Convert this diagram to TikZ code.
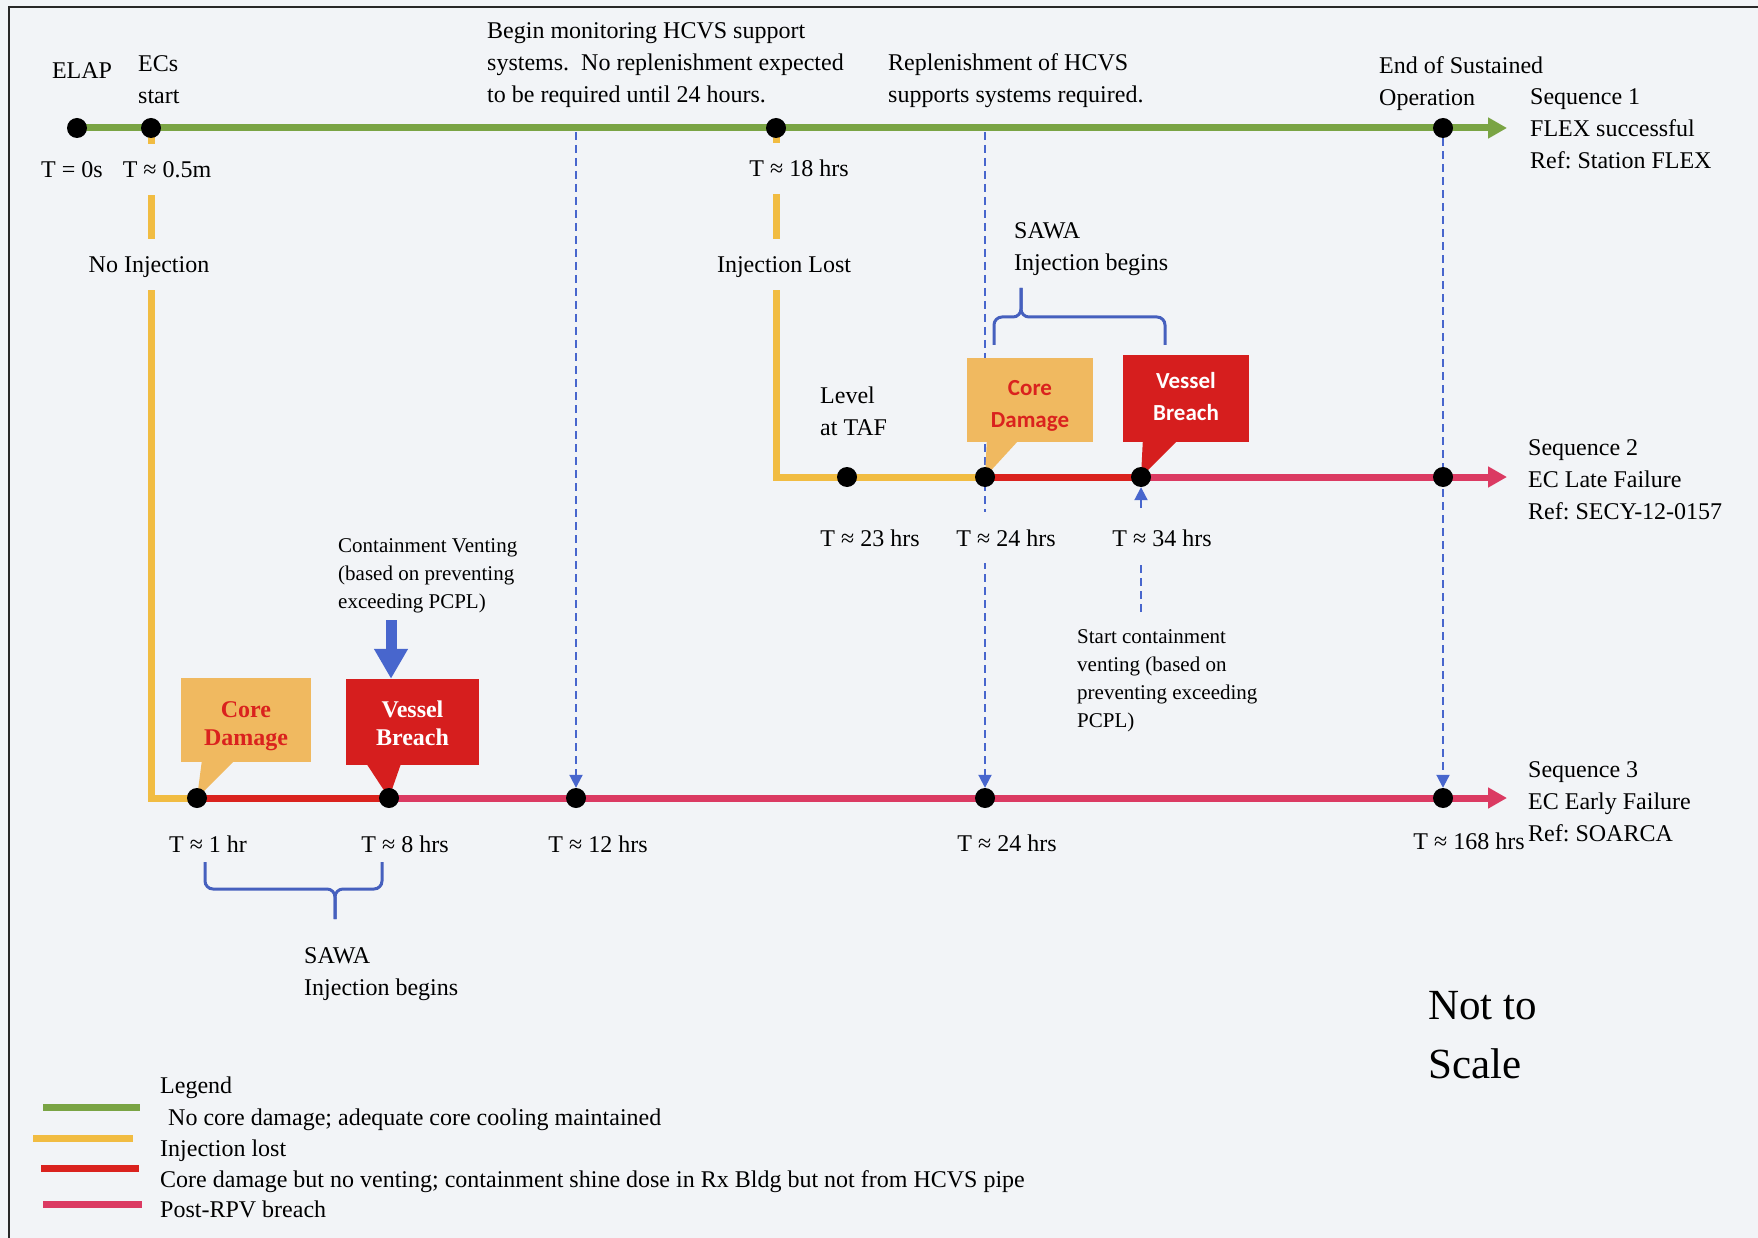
\documentclass[tikz,border=0pt]{standalone}
\usepackage{fontspec}
\setmainfont{Liberation Serif}
\newfontfamily\calfont{Carlito}
\usetikzlibrary{arrows.meta,calc}
\frenchspacing

\pgfdeclarelayer{bgfill}
\pgfdeclarelayer{lines}
\pgfsetlayers{bgfill,lines,main}

\definecolor{bg}{RGB}{242,244,247}
\definecolor{flexgreen}{RGB}{122,164,68}
\definecolor{injyellow}{RGB}{241,188,66}
\definecolor{cdred}{RGB}{218,34,30}
\definecolor{postpink}{RGB}{219,58,98}
\definecolor{cdtan}{RGB}{240,185,96}
\definecolor{vbred}{RGB}{214,30,30}
\definecolor{ventblue}{RGB}{72,102,205}
\definecolor{bracetone}{RGB}{70,96,190}
\definecolor{frameink}{RGB}{40,40,40}

\begin{document}
\begin{tikzpicture}[x=1pt,y=-1pt,
  tldot/.style={circle,fill=black,minimum size=20pt,inner sep=0pt},
  seqline/.style={line width=7pt},
  seqend/.style={seqline,-{Triangle[length=19pt,width=20pt]}},
  vdash/.style={ventblue,line width=2pt,dash pattern=on 8pt off 5pt,-{Triangle[length=13pt,width=13pt]}},
  txt/.style={font=\fontsize{24}{32}\selectfont,inner sep=0pt},
  smalltxt/.style={font=\fontsize{21}{28}\selectfont,inner sep=0pt},
  gap/.style={txt,fill=bg,text height=17pt,text depth=0pt,inner xsep=3pt,inner ysep=17pt},
  cdbox/.style={fill=cdtan,inner sep=0pt},
  vbbox/.style={fill=vbred,inner sep=0pt},
  toplabel/.style={anchor=north,align=center,inner sep=0pt,font=\calfont\bfseries\fontsize{23}{32.5}\selectfont},
  lowlabel/.style={anchor=north,align=center,inner sep=0pt,font=\bfseries\fontsize{24}{28}\selectfont},
  bracepath/.style={bracetone,line width=3pt,rounded corners=8pt},
  swatch/.style={line width=7pt}]

\useasboundingbox (0,0) rectangle (1758,1238);
\begin{pgfonlayer}{bgfill}
  \fill[bg] (0,0) rectangle (1758,1238);
\end{pgfonlayer}

% ---- event dots ----
\node[tldot] (s1a) at (77,128) {};
\node[tldot] (s1b) at (151,128) {};
\node[tldot] (s1c) at (776,128) {};
\node[tldot] (s1d) at (1443,128) {};
\node[tldot] (s2a) at (847,477) {};
\node[tldot] (s2b) at (985,477) {};
\node[tldot] (s2c) at (1141,477) {};
\node[tldot] (s2d) at (1443,477) {};
\node[tldot] (s3a) at (197,798) {};
\node[tldot] (s3b) at (389,798) {};
\node[tldot] (s3c) at (576,798) {};
\node[tldot] (s3d) at (985,798) {};
\node[tldot] (s3e) at (1443,798) {};

\coordinate (t1) at (1507,128);
\coordinate (t2) at (1507,477);
\coordinate (t3) at (1507,798);
\coordinate (c12) at (576,132);
\coordinate (c24) at (985,132);
\coordinate (c34) at (1141,612);

% ---- callout boxes ----
\node[cdbox,minimum width=126pt,minimum height=84pt] (cd2) at (1030,400) {};
\node[vbbox,minimum width=126pt,minimum height=87pt] (vb2) at (1186,398.5) {};
\node[cdbox,minimum width=130pt,minimum height=84pt] (cd3) at (246,720) {};
\node[vbbox,minimum width=133pt,minimum height=86pt] (vb3) at (412.5,722) {};

\begin{pgfonlayer}{lines}
  % sequence 1
  \draw[seqend,flexgreen] (s1a.center) -- (t1);
  % sequence 2
  \draw[seqline,injyellow] (s1c.center) |- (s2b.center);
  \draw[seqline,cdred] (s2b.center) -- (s2c.center);
  \draw[seqend,postpink] (s2c.center) -- (t2);
  % sequence 3
  \draw[seqline,injyellow] (s1b.center) |- (s3a.center);
  \draw[seqline,cdred] (s3a.center) -- (s3b.center);
  \draw[seqend,postpink] (s3b.center) -- (t3);
  % dashed time markers
  \draw[vdash] (c12) -- (s3c);
  \draw[vdash] (c24) -- (s3d);
  \draw[vdash] (s1d) -- (s3e);
  \draw[vdash] (c34) -- (s2c);
  % callout tails
  \fill[cdtan] ($(cd2.south west)+(20,-1)$) -- ($(cd2.south west)+(51,-1)$) -- (s2b.center) -- cycle;
  \fill[vbred] ($(vb2.south west)+(20,-1)$) -- ($(vb2.south west)+(54,-1)$) -- (s2c.center) -- cycle;
  \fill[cdtan] ($(cd3.south west)+(21,-1)$) -- ($(cd3.south west)+(53,-1)$) -- (s3a.center) -- cycle;
  \fill[vbred] ($(vb3.south west)+(21,-1)$) -- ($(vb3.south west)+(55,-1)$) -- (s3b.center) -- cycle;
\end{pgfonlayer}

% ---- callout texts ----
\node[toplabel,text=cdred] (cd2t) at (1030,380) {Core\\Damage};
\node[toplabel,text=white] (vb2t) at (1186,372) {Vessel\\Breach};
\node[lowlabel,text=cdred] (cd3t) at (246,701) {Core\\Damage};
\node[lowlabel,text=white] (vb3t) at (412.5,701) {Vessel\\Breach};

% ---- sequence 1 labels ----
\node[txt,anchor=base] (elap) at (82,79) {ELAP};
\node[txt,anchor=north west,align=left] (ecs) at (138,55) {ECs\\start};
\node[txt,anchor=base] (t0) at (72,178) {T = 0s};
\node[gap,anchor=base] (t05) at (167,178) {T ≈ 0.5m};
\node[gap,anchor=base] (noinj) at (149,273) {No Injection};
\node[txt,anchor=north west,align=left] (monitor) at (487,22) {Begin monitoring HCVS support\\systems.\ \ No replenishment expected\\to be required until 24 hours.};
\node[gap,anchor=base] (t18) at (799,177) {T ≈ 18 hrs};
\node[gap,anchor=base] (injlost) at (784,273) {Injection Lost};
\node[txt,anchor=north west,align=left] (replen) at (888,53) {Replenishment of HCVS\\supports systems required.};
\node[txt,anchor=north west,align=left] (endsus) at (1379,56) {End of Sustained\\Operation};
\node[txt,anchor=north west,align=left] (seq1) at (1530,88) {Sequence 1\\FLEX successful\\Ref: Station FLEX};

% ---- sequence 2 labels ----
\node[txt,anchor=north west,align=left] (sawa2) at (1014,222) {SAWA\\Injection begins};
\draw[bracepath] (994,345) -- (994,317) -- (1021,317) -- (1021,288);
\draw[bracepath] (1021,288) -- (1021,317) -- (1165,317) -- (1165,345);
\node[txt,anchor=north west,align=left] (taf) at (820,387) {Level\\at TAF};
\node[txt,anchor=base] (t23) at (870,546) {T ≈ 23 hrs};
\node[gap,anchor=base] (t24b) at (1006,546) {T ≈ 24 hrs};
\node[gap,anchor=base] (t34) at (1162,546) {T ≈ 34 hrs};
\node[txt,anchor=north west,align=left] (seq2) at (1528,439) {Sequence 2\\EC Late Failure\\Ref: SECY-12-0157};
\node[smalltxt,anchor=north west,align=left] (startvent) at (1077,629) {Start containment\\venting (based on\\preventing exceeding\\PCPL)};

% ---- sequence 3 labels ----
\node[smalltxt,anchor=north west,align=left] (cvent) at (338,538) {Containment Venting\\(based on preventing\\exceeding PCPL)};
\coordinate (ventarrow) at (391,620);
\draw[ventblue,line width=11pt,-{Triangle[length=30pt,width=32pt]}] (ventarrow) -- (ventarrow |- vb3.north);
\node[txt,anchor=base] (t1h) at (208,852) {T ≈ 1 hr};
\node[txt,anchor=base] (t8) at (405,852) {T ≈ 8 hrs};
\node[txt,anchor=base] (t12) at (598,852) {T ≈ 12 hrs};
\node[txt,anchor=base] (t24c) at (1007,851) {T ≈ 24 hrs};
\node[txt,anchor=base] (t168) at (1469,849) {T ≈ 168 hrs};
\node[txt,anchor=north west,align=left] (seq3) at (1528,761) {Sequence 3\\EC Early Failure\\Ref: SOARCA};
\draw[bracepath] (205,862) -- (205,889) -- (335,889) -- (335,919);
\draw[bracepath] (335,919) -- (335,889) -- (382,889) -- (382,862);
\node[txt,anchor=north west,align=left] (sawa3) at (304,947) {SAWA\\Injection begins};

\node[anchor=north west,align=left,inner sep=0pt,font=\fontsize{43}{59}\selectfont] (nts) at (1428,991) {Not to\\Scale};

% ---- legend ----
\node[txt,anchor=base west] (legend) at (160,1093) {Legend};
\draw[swatch,flexgreen] (43,1107) -- (140,1107);
\node[txt,anchor=base west] (lg1) at (168,1125) {No core damage; adequate core cooling maintained};
\draw[swatch,injyellow] (33,1138) -- (133,1138);
\node[txt,anchor=base west] (lg2) at (160,1156) {Injection lost};
\draw[swatch,cdred] (41,1168) -- (139,1168);
\node[txt,anchor=base west] (lg3) at (160,1187) {Core damage but no venting; containment shine dose in Rx Bldg but not from HCVS pipe};
\draw[swatch,postpink] (43,1204) -- (142,1204);
\node[txt,anchor=base west] (lg4) at (160,1217) {Post-RPV breach};

% ---- frame ----
\draw[frameink,line width=2pt] (9,1238) -- (9,7) -- (1758,7);
\end{tikzpicture}
\end{document}
